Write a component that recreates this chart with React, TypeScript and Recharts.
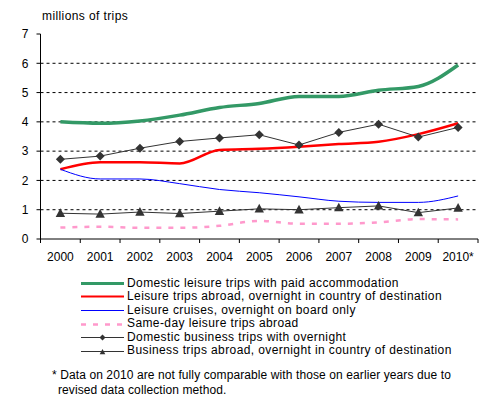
import React from 'react';
import { LineChart, Line, XAxis, YAxis, ReferenceLine, Legend } from 'recharts';

const years = ['2000', '2001', '2002', '2003', '2004', '2005', '2006', '2007', '2008', '2009', '2010*'];
const domesticLeisurePaid = [4.0, 3.95, 4.03, 4.23, 4.49, 4.63, 4.87, 4.87, 5.08, 5.21, 5.94];
const leisureAbroad = [2.38, 2.62, 2.62, 2.58, 3.04, 3.08, 3.15, 3.24, 3.32, 3.58, 3.95];
const leisureCruises = [2.38, 2.05, 2.05, 1.89, 1.69, 1.58, 1.44, 1.29, 1.25, 1.25, 1.47];
const sameDayAbroad = [0.39, 0.42, 0.38, 0.38, 0.45, 0.62, 0.52, 0.52, 0.57, 0.68, 0.67];
const domesticBusiness = [2.72, 2.83, 3.1, 3.33, 3.45, 3.56, 3.21, 3.64, 3.92, 3.48, 3.81];
const businessAbroad = [0.88, 0.85, 0.92, 0.87, 0.95, 1.03, 1.0, 1.07, 1.13, 0.9, 1.06];
const yTicks = [0, 1, 2, 3, 4, 5, 6, 7];
const gridValues = [1, 2, 3, 4, 5, 6];

const FONT = '"Liberation Sans", Arial, sans-serif';
const W = 490;
const H = 412;
const MARGIN = { top: 34, right: 12, left: 0, bottom: 143 };
const Y_AXIS_W = 40.5;
const PLOT_W = W - MARGIN.left - MARGIN.right - Y_AXIS_W;
const PLOT_BOTTOM = H - MARGIN.bottom - 30;

const data = years.map((year, i) => ({
  year,
  domesticLeisurePaid: domesticLeisurePaid[i],
  leisureAbroad: leisureAbroad[i],
  leisureCruises: leisureCruises[i],
  sameDayAbroad: sameDayAbroad[i],
  domesticBusiness: domesticBusiness[i],
  businessAbroad: businessAbroad[i],
}));

type Marker = 'none' | 'diamond' | 'triangle';
const series: {
  key: string; name: string; color: string; width: number; legendWidth: number;
  dash?: string; legendDash?: string; type: 'monotone' | 'linear'; marker: Marker;
}[] = [
  { key: 'domesticLeisurePaid', name: 'Domestic leisure trips with paid accommodation', color: '#339966', width: 3.5, legendWidth: 3, type: 'monotone', marker: 'none' },
  { key: 'leisureAbroad', name: 'Leisure trips abroad, overnight in country of destination', color: '#ff0000', width: 2.5, legendWidth: 2, type: 'monotone', marker: 'none' },
  { key: 'leisureCruises', name: 'Leisure cruises, overnight on board only', color: '#0000ff', width: 1, legendWidth: 1, type: 'monotone', marker: 'none' },
  { key: 'sameDayAbroad', name: 'Same-day leisure trips abroad', color: '#ff99cc', width: 2.5, legendWidth: 2.5, dash: '5 7', legendDash: '5 7', type: 'monotone', marker: 'none' },
  { key: 'domesticBusiness', name: 'Domestic business trips with overnight', color: '#333333', width: 1, legendWidth: 1, type: 'linear', marker: 'diamond' },
  { key: 'businessAbroad', name: 'Business trips abroad, overnight in country of destination', color: '#333333', width: 1, legendWidth: 1, type: 'linear', marker: 'triangle' },
];

const Diamond = (props: any) => {
  const { cx, cy, half = 4.5 } = props;
  if (cx == null || cy == null) return null;
  return (
    <path
      d={`M${cx},${cy - half} L${cx + half},${cy} L${cx},${cy + half} L${cx - half},${cy} Z`}
      fill="#333333"
      stroke="none"
    />
  );
};

const Triangle = (props: any) => {
  const { cx, cy, scaleBy = 1 } = props;
  if (cx == null || cy == null) return null;
  const s = scaleBy;
  return (
    <path
      d={`M${cx},${cy - 5 * s} L${cx + 4.7 * s},${cy + 3.7 * s} L${cx - 4.7 * s},${cy + 3.7 * s} Z`}
      fill="#333333"
      stroke="none"
    />
  );
};

const XTick = (props: any) => {
  const { x, payload, index } = props;
  const step = PLOT_W / years.length;
  const lines = [x - step / 2];
  if (index === years.length - 1) lines.push(x + step / 2);
  return (
    <g>
      {lines.map((lx, i) => (
        <line key={i} x1={lx} x2={lx} y1={PLOT_BOTTOM} y2={PLOT_BOTTOM + 4} stroke="#000" strokeWidth={1} />
      ))}
      <text x={x} y={PLOT_BOTTOM + 18} dy="0.35em" textAnchor="middle" fill="#000" fontSize={12} fontFamily={FONT}>
        {payload.value}
      </text>
    </g>
  );
};

const renderLegend = () => (
  <div style={{ fontFamily: FONT, fontSize: 12, letterSpacing: '0.4px', color: '#000' }}>
    {series.map((s) => (
      <div key={s.key} style={{ display: 'flex', alignItems: 'center', height: 13.6, lineHeight: '13.6px', whiteSpace: 'nowrap' }}>
        <svg width={46} height={13} style={{ display: 'block', flex: 'none' }}>
          <line x1={0} x2={43} y1={6.5} y2={6.5} stroke={s.color} strokeWidth={s.legendWidth} strokeDasharray={s.legendDash} />
          {s.marker === 'diamond' && <Diamond cx={21.5} cy={6.5} half={3} />}
          {s.marker === 'triangle' && <Triangle cx={21.5} cy={7} scaleBy={0.6} />}
        </svg>
        <span>{s.name}</span>
      </div>
    ))}
  </div>
);

export default function App() {
  return (
    <div style={{ position: 'absolute', left: 0, top: 0, width: W, height: H, background: '#fff', fontFamily: FONT }}>
      <div style={{ position: 'absolute', left: 42, top: 9, fontSize: 12, letterSpacing: '0.4px', lineHeight: '14px', color: '#000' }}>
        millions of trips
      </div>
      <LineChart width={W} height={H} data={data} margin={MARGIN}>
        {gridValues.map((v) => (
          <ReferenceLine key={v} y={v} xAxisId="bottom" yAxisId="left" stroke="#000" strokeWidth={1} strokeDasharray="3 3" />
        ))}
        <XAxis
          dataKey="year"
          xAxisId="bottom"
          scale="band"
          height={30}
          interval={0}
          axisLine={{ stroke: '#000', strokeWidth: 1 }}
          tickLine={false}
          tick={<XTick />}
        />
        <XAxis
          dataKey="year"
          xAxisId="top"
          scale="band"
          orientation="top"
          height={0}
          axisLine={{ stroke: '#808080', strokeWidth: 1 }}
          tickLine={false}
          tick={false}
        />
        <YAxis
          yAxisId="left"
          width={Y_AXIS_W}
          domain={[0, 7]}
          ticks={yTicks}
          interval={0}
          axisLine={{ stroke: '#000', strokeWidth: 1 }}
          tickLine={{ stroke: '#000', strokeWidth: 1 }}
          tickSize={4}
          tickMargin={8}
          tick={{ fill: '#000', fontSize: 12, fontFamily: FONT }}
        />
        <YAxis
          yAxisId="right"
          orientation="right"
          width={0}
          domain={[0, 7]}
          axisLine={{ stroke: '#808080', strokeWidth: 1 }}
          tickLine={false}
          tick={false}
        />
        {series.map((s) => (
          <Line
            key={s.key}
            dataKey={s.key}
            name={s.name}
            xAxisId="bottom"
            yAxisId="left"
            type={s.type}
            stroke={s.color}
            strokeWidth={s.width}
            strokeDasharray={s.dash}
            dot={s.marker === 'diamond' ? <Diamond /> : s.marker === 'triangle' ? <Triangle /> : false}
            activeDot={false}
            isAnimationActive={false}
          />
        ))}
        <Legend
          layout="vertical"
          align="center"
          verticalAlign="middle"
          content={renderLegend}
          wrapperStyle={{ position: 'absolute', left: 81, top: 276.5, width: 400 }}
        />
      </LineChart>
      <div style={{ position: 'absolute', left: 52, top: 368, fontSize: 12, letterSpacing: '0.1px', lineHeight: '15px', color: '#000', whiteSpace: 'nowrap' }}>
        <div>* Data on 2010 are not fully comparable with those on earlier years due to</div>
        <div style={{ paddingLeft: 6 }}>revised data collection method.</div>
      </div>
    </div>
  );
}
